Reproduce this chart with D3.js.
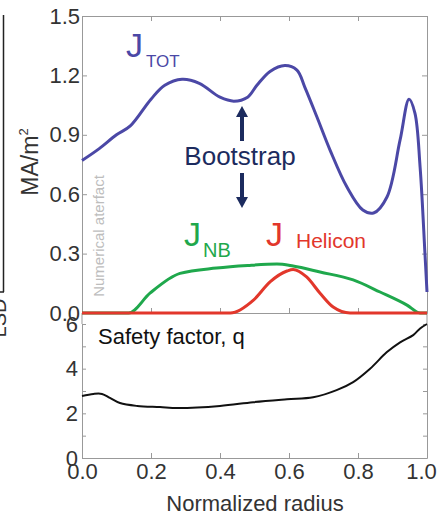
<!DOCTYPE html>
<html>
<head>
<meta charset="utf-8">
<script src="https://cdn.jsdelivr.net/npm/d3@7"></script>
<style>
  body { margin: 0; background: #fff; }
  svg { display: block; font-family: "Liberation Sans", Arial, sans-serif; }
  .axis text { fill: #333; font-size: 22px; }
  .axis line, .axis path { stroke: #999; }
</style>
</head>
<body>
<div class="chart"></div>
<script>
// current density profiles (MA/m^2) vs normalized radius
var rTot = [0, 0.05, 0.1, 0.14, 0.2, 0.24, 0.29, 0.34, 0.4, 0.44, 0.48, 0.507, 0.545, 0.588, 0.623, 0.646, 0.681, 0.719, 0.768, 0.814, 0.845, 0.884, 0.922, 0.948, 0.965, 0.98, 0.994, 1.0];
var jTot = [0.77, 0.83, 0.9, 0.945, 1.08, 1.15, 1.18, 1.16, 1.09, 1.07, 1.09, 1.15, 1.22, 1.25, 1.227, 1.14, 0.99, 0.823, 0.636, 0.52, 0.505, 0.586, 0.874, 1.08, 1.01, 0.737, 0.303, 0.106];

var rNb = [0, 0.135, 0.197, 0.284, 0.39, 0.48, 0.565, 0.612, 0.69, 0.786, 0.864, 0.942, 0.98, 1.0];
var jNb = [0, 0, 0.10, 0.2, 0.227, 0.24, 0.247, 0.237, 0.207, 0.167, 0.106, 0.04, 0, 0];

var rHel = [0, 0.43, 0.497, 0.545, 0.594, 0.612, 0.651, 0.69, 0.728, 0.777, 1.0];
var jHel = [0, 0, 0.065, 0.157, 0.212, 0.22, 0.182, 0.1, 0.03, 0, 0];

// safety factor
var rQ = [0, 0.033, 0.058, 0.081, 0.11, 0.16, 0.226, 0.278, 0.4, 0.496, 0.594, 0.67, 0.738, 0.786, 0.835, 0.883, 0.922, 0.96, 0.98, 1.0];
var qVal = [2.78, 2.87, 2.87, 2.69, 2.46, 2.33, 2.28, 2.24, 2.33, 2.5, 2.63, 2.72, 3.04, 3.4, 4.0, 4.73, 5.18, 5.5, 5.8, 6.0];

var xTicks = [0, 0.2, 0.4, 0.6, 0.8, 1.0];
var jTicks = [0, 0.3, 0.6, 0.9, 1.2, 1.5];
var qTicks = [0, 1, 2, 3, 4, 5, 6];

var width = 439, height = 517;

var svg = d3.select(".chart").append("svg")
    .attr("width", width)
    .attr("height", height);

var x = d3.scaleLinear().domain([0, 1]).range([82, 427]);
var yJ = d3.scaleLinear().domain([0, 1.5]).range([313, 16]);
var yQ = d3.scaleLinear().domain([0, 6]).range([458, 324]);

function zip(a, b) { return a.map(function(d, i) { return [d, b[i]]; }); }

// --- leftover edge of the neighbouring figure
svg.append("line").attr("x1", 3.5).attr("x2", 3.5).attr("y1", 15).attr("y2", 292)
    .attr("stroke", "#222").attr("stroke-width", 1.5);
svg.append("line").attr("x1", 0).attr("x2", 4).attr("y1", 292).attr("y2", 292)
    .attr("stroke", "#222").attr("stroke-width", 1.5);
svg.append("text").attr("transform", "translate(6,318) rotate(-90)")
    .attr("text-anchor", "middle").style("font-size", "20px").attr("fill", "#333").text("LSD");

// --- top panel axes
svg.append("g").attr("class", "axis").attr("transform", "translate(82,0)")
    .call(d3.axisLeft(yJ).tickValues(jTicks).tickFormat(d3.format(".1f")).tickSizeInner(-5).tickSizeOuter(0).tickPadding(2));
svg.append("g").attr("class", "axis").attr("transform", "translate(427,0)")
    .call(d3.axisRight(yJ).tickValues(jTicks).tickFormat("").tickSizeInner(-5).tickSizeOuter(0));
svg.append("g").attr("class", "axis").attr("transform", "translate(0,16)")
    .call(d3.axisTop(x).tickValues(xTicks).tickFormat("").tickSizeInner(-5).tickSizeOuter(0));
svg.append("g").attr("class", "axis").attr("transform", "translate(0,313)")
    .call(d3.axisBottom(x).tickValues(xTicks).tickFormat("").tickSizeInner(-5).tickSizeOuter(0));

// --- bottom panel axes
svg.append("g").attr("class", "axis").attr("transform", "translate(82,0)")
    .call(d3.axisLeft(yQ).tickValues(qTicks).tickFormat(function(d) { return d % 2 === 0 ? d : ""; })
      .tickSizeInner(-4).tickSizeOuter(0).tickPadding(4));
svg.append("g").attr("class", "axis").attr("transform", "translate(427,0)")
    .call(d3.axisRight(yQ).tickValues(qTicks).tickFormat("").tickSizeInner(-4).tickSizeOuter(0));
var gx = svg.append("g").attr("class", "axis").attr("transform", "translate(0,458)")
    .call(d3.axisBottom(x).tickValues(xTicks).tickFormat(d3.format(".1f")).tickSizeInner(-5).tickSizeOuter(0).tickPadding(5));
// last label sits a little left, as in the original (edge of the frame)
gx.selectAll(".tick text").filter(function(d) { return d === 1; }).attr("dx", -6);

// frame pieces between the panels
svg.append("line").attr("x1", 82).attr("x2", 82).attr("y1", 313).attr("y2", 324).attr("stroke", "#999");
svg.append("line").attr("x1", 427).attr("x2", 427).attr("y1", 313).attr("y2", 324).attr("stroke", "#999");

// --- curves
var line = d3.line()
    .x(function(d) { return x(d[0]); })
    .y(function(d) { return yJ(d[1]); })
    .curve(d3.curveMonotoneX);
var smoothLine = d3.line()
    .x(function(d) { return x(d[0]); })
    .y(function(d) { return yJ(d[1]); })
    .curve(d3.curveCatmullRom.alpha(0.5));

svg.append("path").datum(zip(rNb, jNb)).attr("d", line)
    .attr("fill", "none").attr("stroke", "#1fa84c").attr("stroke-width", 3);
svg.append("path").datum(zip(rHel, jHel)).attr("d", line)
    .attr("fill", "none").attr("stroke", "#e2372b").attr("stroke-width", 3);
svg.append("path").datum(zip(rTot, jTot)).attr("d", smoothLine)
    .attr("fill", "none").attr("stroke", "#4b48a6").attr("stroke-width", 3);

var qLine = d3.line()
    .x(function(d) { return x(d[0]); })
    .y(function(d) { return yQ(d[1]); })
    .curve(d3.curveCatmullRom.alpha(0.5));
svg.append("path").datum(zip(rQ, qVal)).attr("d", qLine)
    .attr("fill", "none").attr("stroke", "#111").attr("stroke-width", 2);

// --- labels
svg.append("text").attr("transform", "translate(38,162) rotate(-90)")
    .attr("text-anchor", "middle").style("font-size", "23px").attr("fill", "#333")
    .html('MA/m<tspan dy="-10" style="font-size:13px">2</tspan>');

svg.append("text").attr("x", 255).attr("y", 511).attr("text-anchor", "middle")
    .style("font-size", "22px").attr("fill", "#333").text("Normalized radius");

svg.append("text").attr("x", 98).attr("y", 344).style("font-size", "22px").attr("fill", "#111")
    .text("Safety factor, q");

svg.append("text").attr("transform", "translate(104,236) rotate(-90)")
    .attr("text-anchor", "middle").style("font-size", "15px").attr("fill", "#bdbdbd")
    .text("Numerical aterfact");

function subLabel(xp, yp, sub, color, subSize, subDx, subDy) {
  var t = svg.append("text").attr("x", xp).attr("y", yp).attr("fill", color);
  t.append("tspan").style("font-size", "34px").text("J");
  t.append("tspan").attr("dx", subDx).attr("dy", subDy).style("font-size", subSize).text(sub);
}
subLabel(126, 57, "TOT", "#4b48a6", "17px", 3, 10);
subLabel(184, 246, "NB", "#1fa84c", "20px", 2, 11);
subLabel(266, 246, "Helicon", "#e2372b", "21px", 13, 2);

svg.append("text").attr("x", 240).attr("y", 165).attr("text-anchor", "middle")
    .style("font-size", "26px").attr("fill", "#1c2b5e").text("Bootstrap");

// arrows
var ax = 242;
svg.append("line").attr("x1", ax).attr("x2", ax).attr("y1", 141).attr("y2", 114)
    .attr("stroke", "#1c2b5e").attr("stroke-width", 4);
svg.append("path").attr("d", "M" + (ax - 6) + ",117 L" + ax + ",106 L" + (ax + 6) + ",117 Z").attr("fill", "#1c2b5e");
svg.append("line").attr("x1", ax).attr("x2", ax).attr("y1", 173).attr("y2", 200)
    .attr("stroke", "#1c2b5e").attr("stroke-width", 4);
svg.append("path").attr("d", "M" + (ax - 6) + ",197 L" + ax + ",208 L" + (ax + 6) + ",197 Z").attr("fill", "#1c2b5e");
</script>
</body>
</html>
